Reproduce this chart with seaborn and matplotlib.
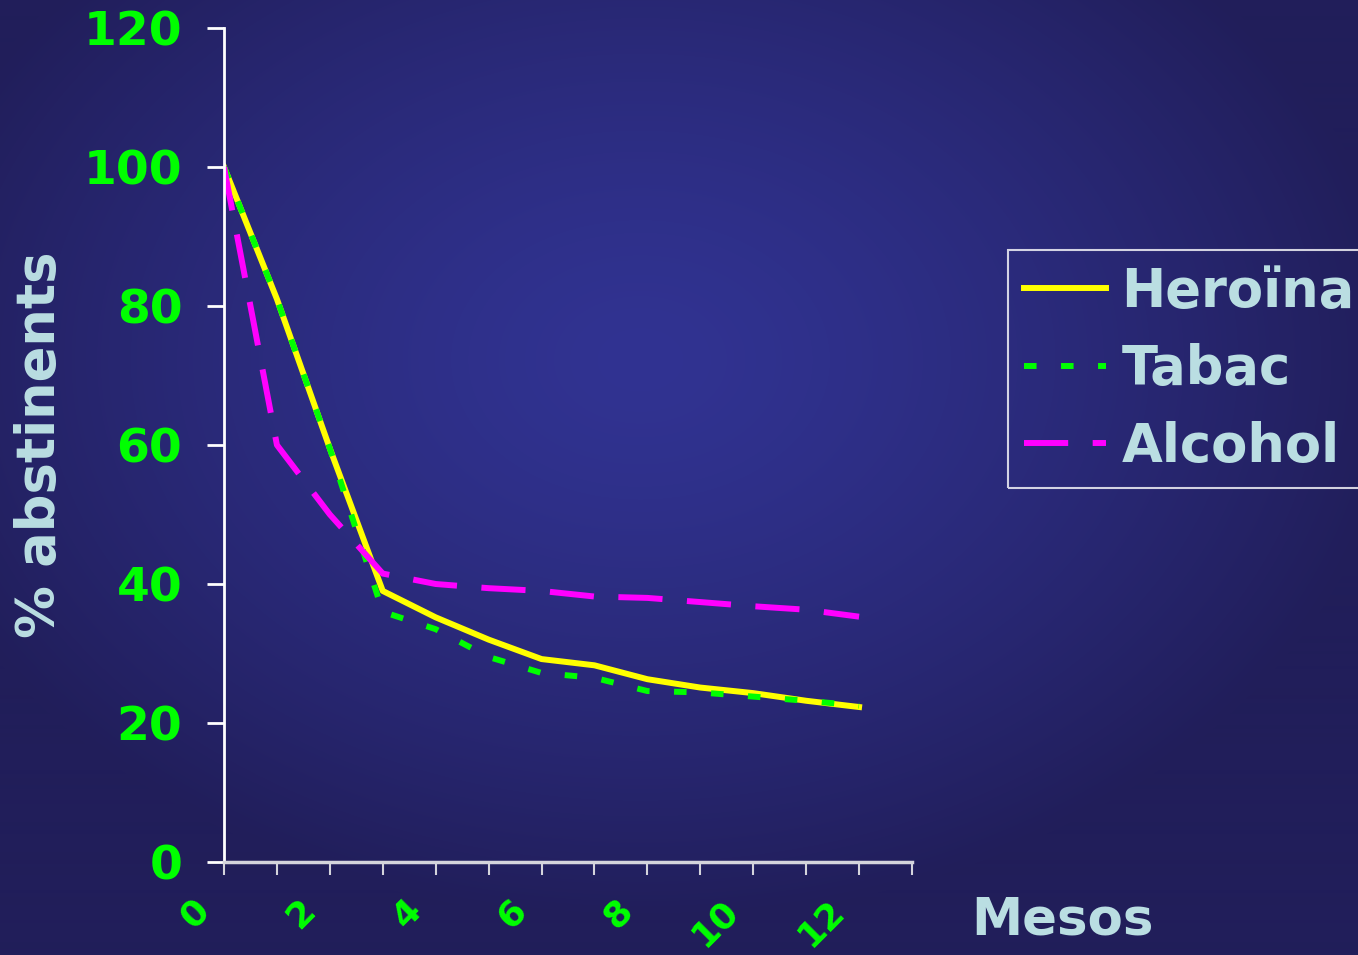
import numpy as np
import pandas as pd
import matplotlib
matplotlib.use("Agg")
import matplotlib.pyplot as plt
from matplotlib.transforms import ScaledTranslation
import seaborn as sns

# ---- data ----
meses = list(range(13))
heroina = [100, 81, 59.5, 39, 35.2, 32, 29.2, 28.3, 26.3, 25.1, 24.3, 23.2, 22.3]
tabac = [100, 81, 59.5, 36, 33.5, 29.5, 27.2, 26.5, 24.6, 24.4, 23.8, 23.2, 22.5]
alcohol = [100, 60, 50, 41.5, 40, 39.4, 39, 38.2, 38, 37.4, 36.8, 36.3, 35.3]
series = ["Heroïna", "Tabac", "Alcohol"]
xtick_labels = ["0", "", "2", "", "4", "", "6", "", "8", "", "10", "", "12", ""]
yticks = [0, 20, 40, 60, 80, 100, 120]

df = pd.DataFrame({
    "Mes": meses * 3,
    "Valor": heroina + tabac + alcohol,
    "Serie": [series[0]] * 13 + [series[1]] * 13 + [series[2]] * 13,
})

GREEN = "#00FF00"
TXT = "#BADEE2"
palette = {"Heroïna": "#FFFF00", "Tabac": "#00FF00", "Alcohol": "#FF00FF"}
dashes = {"Heroïna": "", "Tabac": (2.1, 4.1), "Alcohol": (7.4, 4.1)}

W, H = 1358, 955
fig = plt.figure(figsize=(W / 100, H / 100), dpi=100)

# background radial gradient
yy, xx = np.mgrid[0:H, 0:W]
r = np.sqrt(((xx - 640) / 760.0) ** 2 + ((yy - 360) / 560.0) ** 2)
t = np.clip(r, 0, 1) ** 1.4
c0 = np.array([49, 51, 146]) / 255.0
c1 = np.array([33, 30, 90]) / 255.0
img = c0[None, None, :] * (1 - t[..., None]) + c1[None, None, :] * t[..., None]
bg = fig.add_axes([0, 0, 1, 1], zorder=-10)
bg.imshow(img, aspect="auto", interpolation="bilinear")
bg.axis("off")

ax = fig.add_axes([224 / W, 1 - 862 / H, (912 - 224) / W, (862 - 28) / H])
ax.set_facecolor("none")

sns.lineplot(data=df, x="Mes", y="Valor", hue="Serie", style="Serie",
             hue_order=series, style_order=series,
             palette=palette, dashes=dashes, linewidth=4.3, ax=ax, legend=False)

ax.set_xlim(0, 13)
ax.set_ylim(0, 120)
ax.set_xticks(range(14))
ax.set_xticklabels(xtick_labels)
ax.set_yticks(yticks)
ax.set_yticklabels([str(v) for v in yticks])

for s in ["top", "right"]:
    ax.spines[s].set_visible(False)
ax.spines["left"].set_color("white")
ax.spines["left"].set_linewidth(2)
ax.spines["bottom"].set_color("#D4D4DC")
ax.spines["bottom"].set_linewidth(2.5)

ax.tick_params(axis="y", colors="white", length=12, width=2, pad=18,
               labelcolor=GREEN, labelsize=34)
ax.tick_params(axis="x", colors="#D4D4DC", length=9, width=1.5, pad=22,
               labelcolor=GREEN, labelsize=26)
for lab in ax.get_yticklabels():
    lab.set_fontweight("bold")
off = ScaledTranslation(-20 / 100, 0, fig.dpi_scale_trans)
for lab in ax.get_xticklabels():
    lab.set_fontweight("bold")
    lab.set_rotation(45)
    lab.set_ha("right")
    lab.set_va("center")
    lab.set_rotation_mode("anchor")
    lab.set_transform(lab.get_transform() + off)

ax.set_ylabel("% abstinents", fontsize=38, fontweight="bold", color=TXT)
ax.yaxis.label.set_va("center")
ax.yaxis.set_label_coords((40 - 224) / 688, 0.5)
ax.set_xlabel("Mesos", fontsize=37, fontweight="bold", color=TXT)
ax.xaxis.label.set_va("center")
ax.xaxis.set_label_coords((1062 - 224) / 688, -0.070)

handles = ax.lines[:3]
leg = fig.legend(handles, series, loc="upper left",
                 bbox_to_anchor=(1008 / W, 1 - 488 / H, 420 / W, 238 / H),
                 mode="expand", prop={"weight": "bold", "size": 38},
                 handlelength=1.55, handletextpad=0.3, labelspacing=0.48,
                 borderpad=0.3, borderaxespad=0, fancybox=False, frameon=True)
leg.get_frame().set_edgecolor("white")
leg.get_frame().set_linewidth(1.5)
leg.get_frame().set_facecolor("none")
for txt in leg.get_texts():
    txt.set_color(TXT)

fig.savefig("out.png", dpi=100)
